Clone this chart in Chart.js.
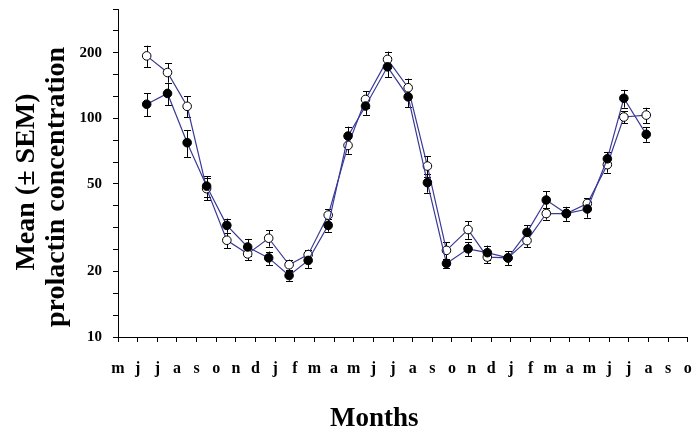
<!DOCTYPE html>
<html><head><meta charset="utf-8">
<script src="https://cdn.jsdelivr.net/npm/chart.js@4.4.1/dist/chart.umd.min.js"></script>
<style>html,body{margin:0;padding:0;background:#fff;} #wrap{width:693px;height:432px;}</style>
</head><body><div id="wrap"><canvas id="c" width="693" height="432"></canvas></div>
<script>
const monthLabels = ['m','j','j','a','s','o','n','d','j','f','m','a','m','j','j','a','s','o','n','d','j','f','m','a','m','j','j','a','s','o'];
const xPositions = [1.46, 2.52, 3.52, 4.51, 5.54, 6.60, 7.67, 8.71, 9.68, 10.70, 11.71, 12.60, 13.72, 14.77, 15.75, 16.72, 17.82, 18.80, 19.85, 20.82, 21.80, 22.82, 23.89, 24.91, 25.75, 26.89];
const filledMeans = [116, 130, 77.4, 49, 32.4, 25.8, 23.0, 19.1, 22.4, 32.4, 83.0, 113.8, 172, 125.4, 50.8, 21.7, 25.3, 24.3, 23.0, 30.1, 42.3, 36.7, 38.5, 65.3, 123.5, 84.5];
const filledSem = [14, 15, 11, 5.5, 2.4, 2.3, 1.6, 1.0, 1.7, 2.1, 8.6, 10, 18, 12.7, 5.1, 1.0, 1.8, 1.9, 1.7, 2.3, 4.2, 2.7, 3.4, 4.9, 11.5, 6.4];
const openMeans = [193, 162, 113.5, 47.7, 27.7, 24.0, 28.3, 21.4, 23.8, 36.1, 75.2, 122, 186, 138, 60.5, 24.9, 31.0, 23.2, 23.0, 27.6, 36.7, 36.7, 40.8, 61.4, 101.4, 103.5];
const openSem = [22, 16.5, 12.5, 5.5, 2.3, 1.6, 2.4, 1.2, 1.3, 2.4, 6.3, 11, 16, 14, 6.6, 2.2, 2.9, 1.5, 1.7, 1.8, 2.3, 2.6, 2.3, 5, 6.6, 8.3];
const yTickLabels = [10, 20, 50, 100, 200];
const xTitle = 'Months';
const yTitleLines = ['Mean (\u00B1 SEM)', 'prolactin concentration'];

const FONT = "'Liberation Serif', 'Times New Roman', serif";
const LINE_COLOR = '#3a3a96';

const errorBars = {
  id: 'errorBars',
  beforeDatasetsDraw(chart) {
    const ctx = chart.ctx, ys = chart.scales.y;
    ctx.save();
    ctx.strokeStyle = '#000';
    ctx.lineWidth = 1;
    chart.data.datasets.forEach((ds, i) => {
      const meta = chart.getDatasetMeta(i);
      meta.data.forEach((pt, j) => {
        const m = ds.means[j], e = ds.sems[j];
        const yt = ys.getPixelForValue(m + e), yb = ys.getPixelForValue(m - e);
        const x = Math.round(pt.x) + 0.5;
        ctx.beginPath();
        ctx.moveTo(x, yt); ctx.lineTo(x, yb);
        ctx.moveTo(x - 3.5, Math.round(yt) + 0.5); ctx.lineTo(x + 3.5, Math.round(yt) + 0.5);
        ctx.moveTo(x - 3.5, Math.round(yb) + 0.5); ctx.lineTo(x + 3.5, Math.round(yb) + 0.5);
        ctx.stroke();
      });
    });
    ctx.restore();
  }
};

const titles = {
  id: 'titles',
  afterDraw(chart) {
    const ctx = chart.ctx, xs = chart.scales.x;
    ctx.save();
    ctx.fillStyle = '#000';
    ctx.font = "bold 27px " + FONT;
    ctx.textAlign = 'center';
    ctx.textBaseline = 'alphabetic';
    ctx.fillText(xTitle, xs.getPixelForValue(13.05), 426);
    ctx.font = "bold 28px " + FONT;
    const cx = [34, 64], cy = [182, 187];
    yTitleLines.forEach((t, i) => {
      ctx.save();
      ctx.translate(cx[i], cy[i]);
      ctx.rotate(-Math.PI / 2);
      ctx.fillText(t, 0, 0);
      ctx.restore();
    });
    ctx.restore();
  }
};

new Chart(document.getElementById('c'), {
  type: 'line',
  data: {
    datasets: [
      {
        label: 'filled',
        data: xPositions.map((x, i) => ({ x: x, y: filledMeans[i] })),
        means: filledMeans, sems: filledSem,
        borderColor: LINE_COLOR, borderWidth: 1.2,
        pointBackgroundColor: '#000', pointBorderColor: '#000',
        pointRadius: 4.3, pointBorderWidth: 1, tension: 0
      },
      {
        label: 'open',
        data: xPositions.map((x, i) => ({ x: x, y: openMeans[i] })),
        means: openMeans, sems: openSem,
        borderColor: LINE_COLOR, borderWidth: 1.2,
        pointBackgroundColor: '#fff', pointBorderColor: '#000',
        pointRadius: 4.3, pointBorderWidth: 1, tension: 0
      }
    ]
  },
  options: {
    responsive: false,
    animation: false,
    devicePixelRatio: 1,
    layout: { padding: { top: 9, right: 5, left: 0, bottom: 0 } },
    plugins: { legend: { display: false }, tooltip: { enabled: false } },
    scales: {
      x: {
        type: 'linear', min: 0, max: monthLabels.length - 1,
        afterBuildTicks: s => { s.ticks = monthLabels.map((_, i) => ({ value: i })); },
        afterFit: s => { s.height = 95; s.paddingLeft = 0; s.paddingRight = 0; },
        ticks: {
          callback: v => monthLabels[Math.round(v)],
          autoSkip: false, maxRotation: 0, minRotation: 0,
          color: '#000', padding: 17,
          font: { family: FONT, size: 16, weight: 'bold' }
        },
        grid: { drawOnChartArea: false, drawTicks: true, tickLength: 5, color: '#000', lineWidth: 1 },
        border: { display: true, color: '#000', width: 1 }
      },
      y: {
        type: 'logarithmic', min: 10, max: Math.pow(10, 2.5),
        afterBuildTicks: s => {
          const t = [];
          for (let k = 0; k <= 15; k++) t.push({ value: Math.pow(10, 1 + k / 10) });
          s.ticks = t;
        },
        afterFit: s => { s.width = 118; s.paddingTop = 0; s.paddingBottom = 0; },
        ticks: {
          callback: v => {
            const hit = yTickLabels.find(l => Math.abs(Math.log10(v) - Math.log10(l)) < 0.02);
            return hit === undefined ? '' : String(hit);
          },
          autoSkip: false, color: '#000', padding: 11,
          font: { family: FONT, size: 15, weight: 'bold' }
        },
        grid: { drawOnChartArea: false, drawTicks: true, tickLength: 5, color: '#000', lineWidth: 1 },
        border: { display: true, color: '#000', width: 1 }
      }
    }
  },
  plugins: [errorBars, titles]
});
</script></body></html>
